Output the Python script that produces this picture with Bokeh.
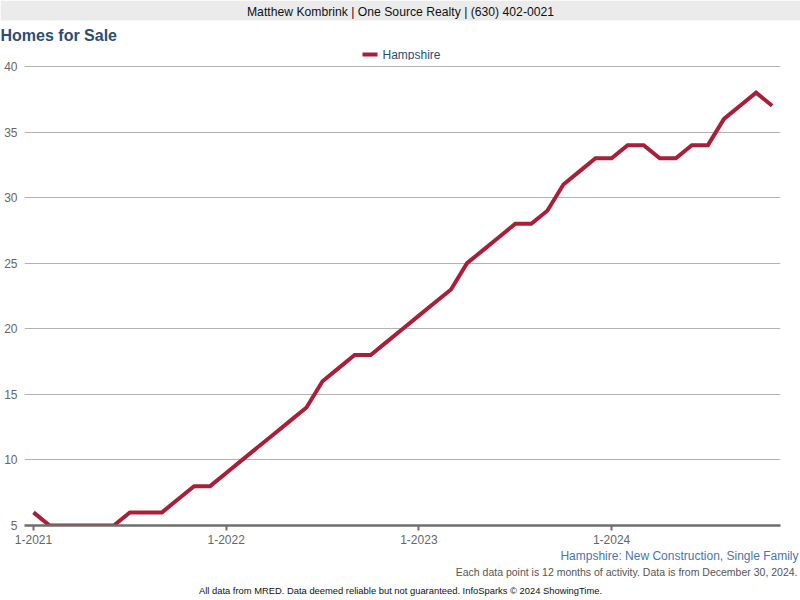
from bokeh.plotting import figure
from bokeh.models import Range1d, FixedTicker
from bokeh.layouts import column
from bokeh.core.properties import value
from bokeh.embed import file_html
from bokeh.resources import INLINE

# ---- data ----
months = [f"{m}-{y}" for y in range(2021, 2025) for m in range(1, 13)][:47]
homes_for_sale = [6, 5, 5, 5, 5, 5, 6, 6, 6, 7, 8, 8,
                  9, 10, 11, 12, 13, 14, 16, 17, 18, 18, 19, 20,
                  21, 22, 23, 25, 26, 27, 28, 28, 29, 31, 32, 33,
                  33, 34, 34, 33, 33, 34, 34, 36, 37, 38, 37]
series_name = "Hampshire"
x_tick_labels = ["1-2021", "1-2022", "1-2023", "1-2024"]
y_ticks = [5, 10, 15, 20, 25, 30, 35, 40]

header_text = "Matthew Kombrink | One Source Realty | (630) 402-0021"
title_text = "Homes for Sale"
subtitle_text = "Hampshire: New Construction, Single Family"
note_text = "Each data point is 12 months of activity. Data is from December 30, 2024."
footer_text = "All data from MRED. Data deemed reliable but not guaranteed. InfoSparks \u00a9 2024 ShowingTime."

FONT = "Liberation Sans"
LINE_COLOR = "#ab1e38"
TITLE_COLOR = "#2b4e74"
SUB_COLOR = "#4a76a8"

W = 800
TOP_H, MAIN_H, FOOT_H = 60, 490, 50


def blank(h):
    f = figure(width=W, height=h, output_backend="svg", toolbar_location=None,
               x_range=Range1d(0, W), y_range=Range1d(h, 0), frame_align=False)
    f.min_border = 0
    f.min_border_left = f.min_border_right = f.min_border_top = f.min_border_bottom = 0
    f.axis.visible = False
    f.grid.visible = False
    f.outline_line_color = None
    f.background_fill_color = "white"
    f.border_fill_color = "white"
    return f


# ---- header / title / legend ----
top = blank(TOP_H)
top.quad(left=[0], right=[W], top=[0], bottom=[20], fill_color="#ebebeb", line_color=None)
top.text(x=[400], y=[11], text=[header_text], text_font=value(FONT), text_font_size="12.2px",
         text_color="#111111", text_align="center", text_baseline="middle")
top.text(x=[0], y=[35], text=[title_text], text_font=value(FONT), text_font_size="16px",
         text_font_style="bold", text_color=TITLE_COLOR, text_align="left", text_baseline="middle")
top.segment(x0=[362], y0=[54], x1=[377], y1=[54], line_color=LINE_COLOR, line_width=4)
top.text(x=[382], y=[54], text=[series_name], text_font=value(FONT), text_font_size="12px",
         text_color=TITLE_COLOR, text_align="left", text_baseline="middle")

# ---- main chart ----
x = list(range(len(homes_for_sale)))
tick_positions = [months.index(t) for t in x_tick_labels]

p = figure(width=W, height=MAIN_H, output_backend="svg", toolbar_location=None,
           x_range=Range1d(-0.56, 46.52), y_range=Range1d(5, 40.15), frame_align=False)
p.min_border_left = 24
p.min_border_right = 20
p.min_border_top = 4
p.min_border_bottom = 25
p.outline_line_color = None
p.background_fill_color = "white"
p.border_fill_color = "white"

p.xgrid.grid_line_color = None
p.ygrid.grid_line_color = "#b3b3b3"
p.ygrid.grid_line_width = 1
p.ygrid.ticker = FixedTicker(ticks=y_ticks)

p.yaxis.ticker = FixedTicker(ticks=y_ticks)
p.yaxis.axis_line_color = None
p.yaxis.major_tick_line_color = None
p.yaxis.major_tick_out = 0
p.yaxis.major_tick_in = 0
p.yaxis.minor_tick_line_color = None
p.yaxis.minor_tick_out = 0
p.yaxis.major_label_standoff = 7
p.yaxis.major_label_text_font = FONT
p.yaxis.major_label_text_font_size = "12px"
p.yaxis.major_label_text_color = "#666666"

p.xaxis.ticker = FixedTicker(ticks=tick_positions)
p.xaxis.major_label_overrides = {pos: lab for pos, lab in zip(tick_positions, x_tick_labels)}
p.xaxis.axis_line_color = "#6e6e6e"
p.xaxis.axis_line_width = 2.5
p.xaxis.major_tick_line_color = "#6e6e6e"
p.xaxis.major_tick_line_width = 2
p.xaxis.major_tick_out = 5
p.xaxis.major_tick_in = 0
p.xaxis.minor_tick_line_color = None
p.xaxis.minor_tick_out = 0
p.xaxis.major_label_standoff = 4
p.xaxis.major_label_text_font = FONT
p.xaxis.major_label_text_font_size = "12px"
p.xaxis.major_label_text_color = "#666666"

p.line(x, homes_for_sale, line_color=LINE_COLOR, line_width=4, line_join="miter")

# ---- footer notes ----
foot = blank(FOOT_H)
foot.text(x=[798], y=[5], text=[subtitle_text], text_font=value(FONT), text_font_size="12px",
          text_color=SUB_COLOR, text_align="right", text_baseline="middle")
foot.text(x=[797], y=[21], text=[note_text], text_font=value(FONT), text_font_size="10.5px",
          text_color="#555555", text_align="right", text_baseline="middle")
foot.text(x=[400], y=[40], text=[footer_text], text_font=value(FONT), text_font_size="9.4px",
          text_color="#111111", text_align="center", text_baseline="middle")

layout = column(top, p, foot, spacing=0)
open("out.html", "w").write(file_html(layout, INLINE))
